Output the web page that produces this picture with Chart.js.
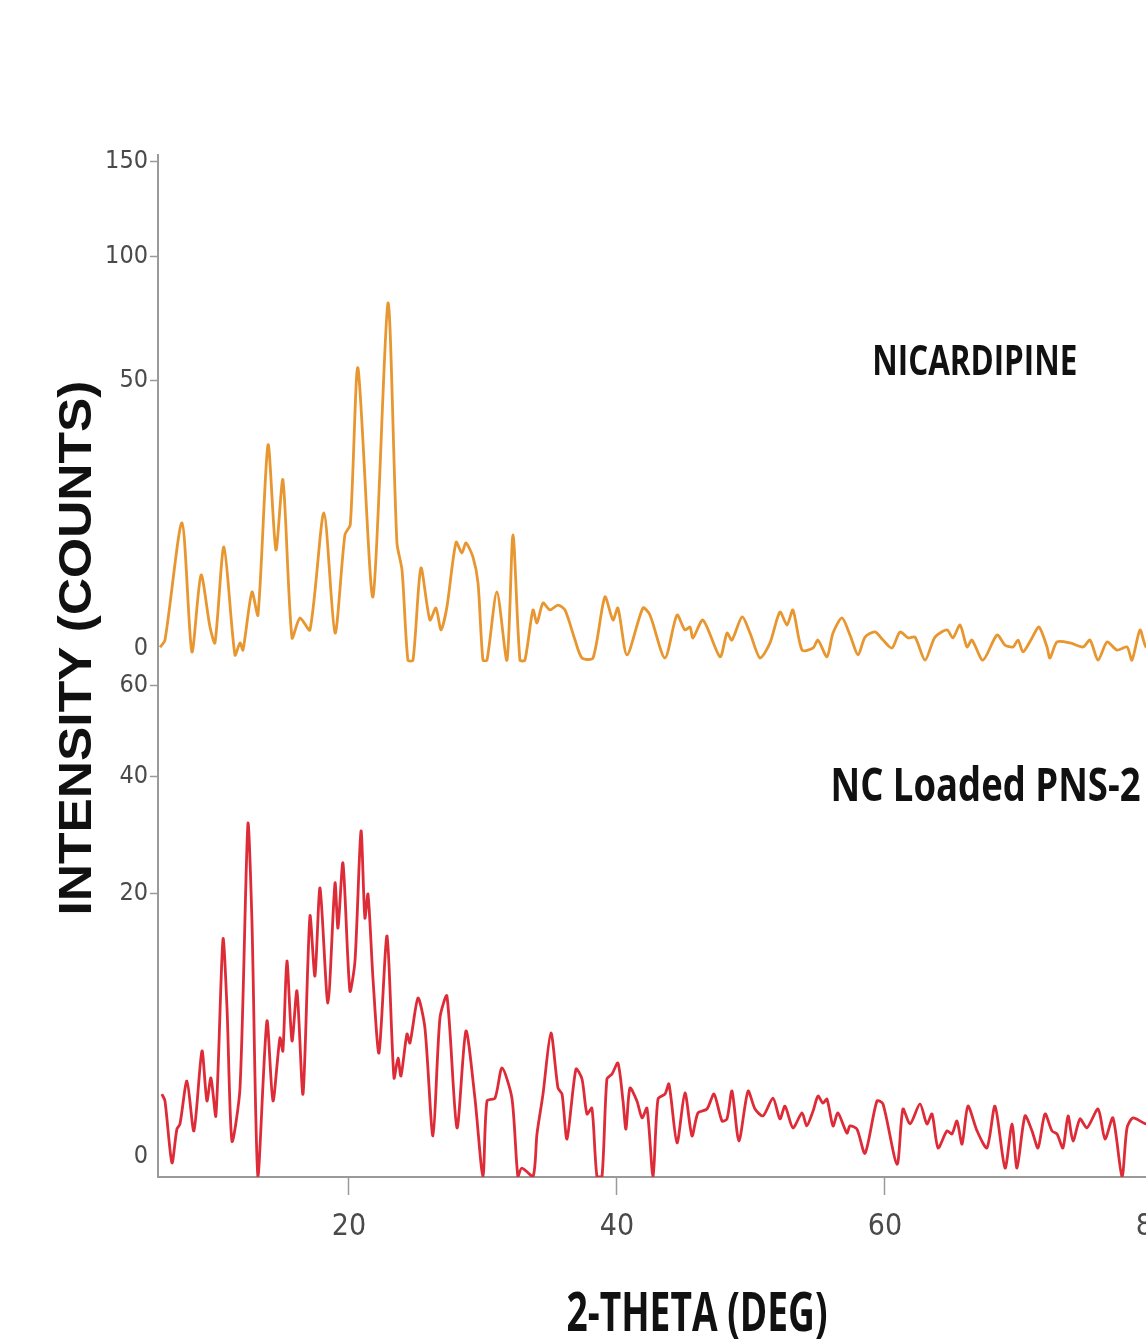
<!DOCTYPE html>
<html>
<head>
<meta charset="utf-8">
<title>XRD - Nicardipine / NC Loaded PNS-2</title>
<script src="https://cdn.jsdelivr.net/npm/chart.js@4.4.1/dist/chart.umd.min.js"></script>
<style>
  html, body { margin: 0; padding: 0; background: #fff; overflow: hidden; }
  #wrap { width: 1200px; height: 1340px; }
</style>
</head>
<body>
<div id="wrap"><canvas id="xrd" width="1200" height="1340"></canvas></div>
<script>
// ── Data (2-theta in degrees, intensity in counts) ──
const xTicks = [20, 40, 60, 80];
const topTicks = [0, 50, 100, 150];
const bottomTicks = [0, 20, 40, 60];

const nicTheta = [
  5.9, 6.27, 7.54, 8.28, 8.96, 9.63, 10.0, 10.67, 11.49, 11.87, 12.09, 12.76, 13.21, 13.96, 14.55,
  15.07, 15.75, 16.34, 17.09, 18.13, 18.96, 19.7, 20.1, 20.67, 21.79, 22.91, 23.58, 23.96, 24.4, 24.78,
  25.37, 26.04, 26.49, 26.87, 27.31, 27.99, 28.43, 28.73, 29.25, 29.63, 30.0, 30.3, 31.04, 31.79, 32.24,
  32.76, 33.13, 33.73, 34.03, 34.48, 35.0, 35.6, 36.12, 36.87, 37.39, 38.21, 39.1, 39.7, 40.07, 40.75,
  41.94, 42.46, 43.58, 44.48, 45.07, 45.45, 45.67, 46.42, 47.69, 48.21, 48.58, 49.33, 49.93, 50.67, 51.42,
  52.16, 52.69, 53.13, 53.81, 54.63, 55.0, 55.67, 56.12, 56.79, 57.39, 57.99, 58.51, 59.25, 59.85, 60.52,
  61.12, 61.72, 62.24, 62.99, 63.73, 64.63, 65.07, 65.6, 66.12, 66.49, 67.31, 68.36, 68.96, 69.55, 69.93,
  70.3, 70.97, 71.49, 72.09, 72.31, 72.84, 73.81, 74.78, 75.3, 75.9, 76.57, 77.31, 78.06, 78.43, 79.03,
  79.48, 80.0
];
const nicCounts = [
  0.6, 0.89, 13.8, 0.44, 6.16, 1.57, 0.77, 9.89, 0.35, 0.77, 0.5, 4.33, 2.36, 30.9, 9.44,
  22.4, 0.99, 2.15, 1.4, 15.6, 1.23, 11.8, 13.5, 54.4, 3.85, 79.4, 10.5, 6.76, 0.22, 0.22,
  7.01, 2.01, 2.9, 1.4, 2.98, 10.6, 9.01, 10.5, 8.46, 5.26, 0.22, 0.22, 4.33, 0.22, 11.75,
  0.22, 0.22, 2.74, 1.82, 3.31, 2.74, 3.14, 2.74, 0.89, 0.27, 0.27, 3.85, 2.01, 2.9, 0.35,
  2.9, 2.36, 0.27, 2.36, 1.4, 1.57, 0.99, 2.01, 0.3, 1.23, 0.89, 2.22, 1.23, 0.27, 0.77,
  2.58, 1.69, 2.74, 0.5, 0.57, 0.89, 0.3, 1.23, 2.15, 1.13, 0.35, 1.03, 1.29, 0.89, 0.57,
  1.29, 0.99, 1.03, 0.22, 1.03, 1.4, 0.99, 1.69, 0.61, 0.89, 0.22, 1.13, 0.68, 0.61, 0.89,
  0.44, 0.99, 1.57, 0.61, 0.27, 0.81, 0.77, 0.61, 0.89, 0.22, 0.81, 0.5, 0.61, 0.22, 1.4,
  0.61, 0.8
];

const pnsTheta = [
  6.04, 6.27, 6.79, 7.16, 7.39, 7.91, 8.43, 9.03, 9.4, 9.7, 10.07, 10.6, 10.9, 11.27, 11.87,
  12.46, 12.76, 13.21, 13.88, 14.33, 14.85, 15.07, 15.37, 15.75, 16.12, 16.57, 17.09, 17.46, 17.84, 18.43,
  18.96, 19.18, 19.55, 20.07, 20.45, 20.9, 21.19, 21.42, 21.79, 22.24, 22.84, 23.36, 23.66, 23.88, 24.33,
  24.55, 25.15, 25.67, 26.27, 26.79, 27.31, 28.06, 28.73, 29.4, 30.0, 30.3, 30.9, 31.42, 32.16, 32.61,
  32.9, 33.73, 34.03, 34.48, 35.07, 35.6, 35.9, 36.27, 36.94, 37.39, 37.76, 38.13, 38.51, 38.88, 39.25,
  39.63, 40.07, 40.45, 40.67, 40.97, 41.49, 41.87, 42.24, 42.69, 43.06, 43.58, 43.88, 44.48, 45.07, 45.6,
  46.04, 46.72, 47.24, 47.84, 48.21, 48.58, 49.1, 49.78, 50.3, 50.9, 51.64, 52.16, 52.54, 53.13, 53.81,
  54.16, 54.63, 55.0, 55.37, 55.67, 56.12, 56.49, 57.16, 57.39, 57.91, 58.51, 59.4, 59.85, 60.9, 61.34,
  61.87, 62.61, 63.13, 63.51, 63.96, 64.63, 65.0, 65.37, 65.75, 66.19, 66.87, 67.61, 68.21, 68.96, 69.48,
  69.85, 70.45, 70.97, 71.42, 71.94, 72.46, 72.84, 73.28, 73.66, 74.03, 74.55, 75.07, 75.9, 76.42, 77.01,
  77.69, 78.06, 78.51, 79.48, 80.0
];
const pnsCounts = [
  1.71, 1.44, 0.05, 0.57, 0.7, 2.29, 0.53, 3.95, 1.44, 2.44, 0.93, 14.09, 7.11, 0.32, 1.97,
  31.0, 16.3, 0, 6.05, 1.44, 4.81, 3.95, 11.61, 4.6, 8.61, 1.71, 16.95, 10.05, 20.78, 7.53,
  21.5, 15.42, 24.53, 8.61, 11.61, 29.78, 16.69, 19.92, 9.85, 3.83, 14.45, 2.44, 3.52, 2.54, 5.09,
  4.47, 7.97, 5.52, 0.42, 6.29, 8.15, 0.6, 5.3, 1.55, 0, 1.44, 1.55, 2.96, 1.55, 0,
  0.02, 0, 0.46, 1.71, 5.16, 1.97, 1.71, 0.36, 2.9, 2.39, 0.99, 1.18, 0, 0, 2.39,
  2.64, 3.23, 1.44, 0.57, 1.97, 1.44, 0.87, 1.18, 0, 1.51, 1.71, 2.15, 0.29, 1.76, 0.42,
  1.02, 1.15, 1.71, 0.78, 0.84, 1.84, 0.32, 1.84, 1.15, 0.93, 1.55, 0.84, 1.25, 0.6, 1.02,
  0.65, 1.08, 1.63, 1.36, 1.51, 0.65, 1.02, 0.48, 0.65, 0.57, 0.14, 1.44, 1.33, 0.04, 1.15,
  0.7, 1.33, 0.7, 0.99, 0.21, 0.53, 0.46, 0.78, 0.27, 1.25, 0.53, 0.21, 1.25, 0.02, 0.7,
  0.02, 0.93, 0.53, 0.21, 0.99, 0.53, 0.46, 0.21, 0.93, 0.32, 0.84, 0.6, 1.15, 0.36, 0.87,
  0, 0.6, 0.87, 0.7, 0.8
];

// ── Look ──
const ORANGE = '#E8962F';
const RED = '#DE2B38';
const AXIS = '#9a9a9a';
const TICK_TEXT = '#4a4a4a';
const NARROW = '"Liberation Sans Narrow", "DejaVu Sans Condensed", "Arial Narrow", sans-serif';
const LABEL_FONT = '"Open Sans", "Liberation Sans", sans-serif';

// both panels use a square-root intensity axis
const TOP_ROOT_MAX = 12.41;
const BOTTOM_ROOT_MAX = 7.84;
const TOP_ZERO_LIFT = 0.75;     // the "0" labels sit a bit above the baseline
const BOTTOM_ZERO_LIFT = 0.33;

function rootPoints(xs, ys) {
  return xs.map((x, i) => ({ x, y: Math.sqrt(Math.max(ys[i], 0)) }));
}

function rootTicks(list, lift) {
  return list.map(v => ({ value: v === 0 ? lift : Math.sqrt(v) }));
}

function yAxis(list, lift, maxRoot, weight) {
  return {
    type: 'linear',
    position: 'left',
    stack: 'xrd',
    stackWeight: weight,
    min: 0,
    max: maxRoot,
    afterBuildTicks: s => { s.ticks = rootTicks(list, lift); },
    afterFit: s => { s.width = 158; },
    border: { color: AXIS, width: 2 },
    grid: {
      drawOnChartArea: false,
      tickLength: 8,
      tickWidth: 1.5,
      tickColor: c => list[c.index] === 0 ? 'rgba(0,0,0,0)' : AXIS,
    },
    ticks: {
      color: TICK_TEXT,
      padding: 2,
      font: { family: NARROW, size: 25 },
      callback: (v, i) => String(list[i]),
    },
  };
}

// draw text squeezed/stretched to a given width (the source labels are condensed)
function fitText(ctx, text, x, y, font, width) {
  ctx.font = font;
  const w = ctx.measureText(text).width;
  ctx.save();
  ctx.translate(x, y);
  ctx.scale(width / w, 1);
  ctx.fillText(text, 0, 0);
  ctx.restore();
}

const textPlugin = {
  id: 'xrdText',
  afterDraw(chart) {
    const { ctx, scales } = chart;
    ctx.save();
    ctx.fillStyle = '#111';
    ctx.textAlign = 'center';
    ctx.textBaseline = 'middle';

    // sample labels
    fitText(ctx, 'NICARDIPINE', scales.x.getPixelForValue(66.7),
      scales.yTop.getPixelForValue(Math.sqrt(56)), 'bold 42px ' + LABEL_FONT, 205);
    fitText(ctx, 'NC Loaded PNS-2', scales.x.getPixelForValue(67.5),
      scales.yBot.getPixelForValue(Math.sqrt(37.6)), 'bold 46px ' + LABEL_FONT, 310);

    // axis titles
    fitText(ctx, '2-THETA (DEG)', 697, 1316, 'bold 54px ' + LABEL_FONT, 261);
    ctx.translate(78, 648);
    ctx.rotate(-Math.PI / 2);
    fitText(ctx, 'INTENSITY (COUNTS)', 0, 0, 'bold 47px "Liberation Sans", Arial, sans-serif', 535);
    ctx.restore();
  }
};

new Chart(document.getElementById('xrd'), {
  type: 'line',
  data: {
    datasets: [
      {
        label: 'NICARDIPINE',
        data: rootPoints(nicTheta, nicCounts),
        yAxisID: 'yTop',
        borderColor: ORANGE,
        borderWidth: 2.8,
        pointRadius: 0,
        tension: 0.25,
      },
      {
        label: 'NC Loaded PNS-2',
        data: rootPoints(pnsTheta, pnsCounts),
        yAxisID: 'yBot',
        borderColor: RED,
        borderWidth: 2.8,
        pointRadius: 0,
        tension: 0.25,
      },
    ],
  },
  options: {
    responsive: false,
    animation: false,
    events: [],
    layout: { padding: { top: 155, right: 47, bottom: 0, left: 0 } },
    plugins: { legend: { display: false }, tooltip: { enabled: false } },
    scales: {
      x: {
        type: 'linear',
        min: 5.75,
        max: 80,
        afterBuildTicks: s => { s.ticks = xTicks.map(v => ({ value: v })); },
        afterFit: s => { s.height = 163; },
        border: { color: AXIS, width: 2 },
        grid: { drawOnChartArea: false, tickLength: 18, tickWidth: 1.5, tickColor: AXIS },
        ticks: { color: TICK_TEXT, padding: 14, font: { family: NARROW, size: 30 } },
      },
      // stacked left axes are laid out last-first, so the lower panel goes first
      yBot: yAxis(bottomTicks, BOTTOM_ZERO_LIFT, BOTTOM_ROOT_MAX, 497),
      yTop: yAxis(topTicks, TOP_ZERO_LIFT, TOP_ROOT_MAX, 525),
    },
  },
  plugins: [textPlugin],
});
</script>
</body>
</html>
